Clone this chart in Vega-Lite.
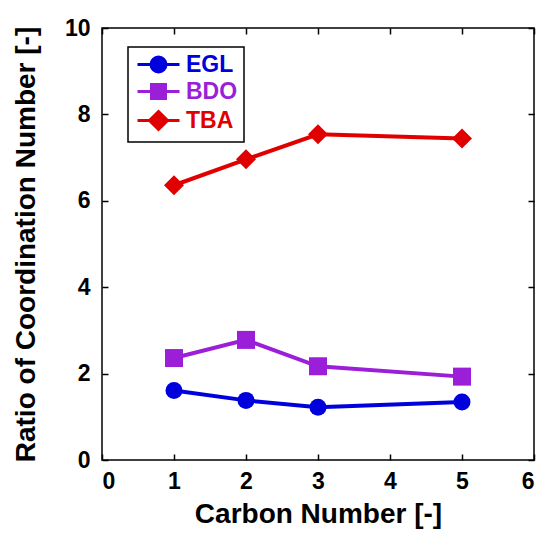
{
  "$schema": "https://vega.github.io/schema/vega-lite/v6.json",
  "width": 432,
  "height": 432,
  "autosize": "none",
  "padding": {"left": 102, "top": 28, "right": 11, "bottom": 73},
  "background": "white",
  "config": {
    "font": "Liberation Sans",
    "view": {"stroke": "black", "strokeWidth": 1.5},
    "axis": {
      "labelFont": "Liberation Sans", "labelFontWeight": "bold", "labelFontSize": 23, "labelColor": "black",
      "titleFont": "Liberation Sans", "titleFontWeight": "bold", "titleFontSize": 28, "titleColor": "black",
      "grid": false, "domain": false, "tickSize": 6, "offset": -6, "tickColor": "black", "tickWidth": 1.5
    }
  },
  "data": {"values": [
    {"series": "EGL", "carbon": 1, "ratio": 1.61},
    {"series": "EGL", "carbon": 2, "ratio": 1.38},
    {"series": "EGL", "carbon": 3, "ratio": 1.22},
    {"series": "EGL", "carbon": 5, "ratio": 1.34},
    {"series": "BDO", "carbon": 1, "ratio": 2.36},
    {"series": "BDO", "carbon": 2, "ratio": 2.78},
    {"series": "BDO", "carbon": 3, "ratio": 2.17},
    {"series": "BDO", "carbon": 5, "ratio": 1.93},
    {"series": "TBA", "carbon": 1, "ratio": 6.36},
    {"series": "TBA", "carbon": 2, "ratio": 6.96},
    {"series": "TBA", "carbon": 3, "ratio": 7.54},
    {"series": "TBA", "carbon": 5, "ratio": 7.44}
  ]},
  "layer": [
    {
      "mark": {"type": "line", "strokeWidth": 4},
      "encoding": {
        "x": {"field": "carbon", "type": "quantitative", "scale": {"domain": [0, 6], "nice": false},
              "axis": {"values": [0, 1, 2, 3, 4, 5, 6], "title": "Carbon Number [-]", "labelPadding": 10, "titlePadding": 7}},
        "y": {"field": "ratio", "type": "quantitative", "scale": {"domain": [0, 10], "nice": false},
              "axis": {"values": [0, 2, 4, 6, 8, 10], "title": "Ratio of Coordination Number [-]", "labelPadding": 12, "titlePadding": 24}},
        "color": {"field": "series", "type": "nominal",
          "scale": {"domain": ["EGL", "BDO", "TBA"], "range": ["#0000DD", "#9B1ED8", "#E00000"]},
          "legend": {
            "orient": "none", "legendX": 26, "legendY": 19, "title": null,
            "strokeColor": "black", "fillColor": "white", "padding": 6,
            "symbolSize": 400, "symbolStrokeWidth": 3,
            "labelFont": "Liberation Sans", "labelFontSize": 23, "labelFontWeight": "bold",
            "labelOffset": 29, "rowPadding": 0,
            "encode": {
              "legend": {"update": {"strokeWidth": {"value": 1.5}}},
              "labels": {"update": {"fill": {"signal": "datum.value === 'EGL' ? '#0000DD' : datum.value === 'BDO' ? '#9B1ED8' : '#E00000'"}}},
              "symbols": {"update": {
                "shape": {"signal": "datum.value === 'EGL' ? 'M-0.8,0H3.4M0.55,0A0.75,0.75 0 1,0 2.05,0A0.75,0.75 0 1,0 0.55,0Z' : datum.value === 'BDO' ? 'M-0.8,0H3.4M0.6,-0.7H2.0V0.7H0.6Z' : 'M-0.8,0H3.4M1.3,-0.9L2.2,0L1.3,0.9L0.4,0Z'"},
                "fill": {"signal": "datum.value === 'EGL' ? '#0000DD' : datum.value === 'BDO' ? '#9B1ED8' : '#E00000'"},
                "stroke": {"signal": "datum.value === 'EGL' ? '#0000DD' : datum.value === 'BDO' ? '#9B1ED8' : '#E00000'"},
                "strokeWidth": {"value": 3},
                "opacity": {"value": 1},
                "fillOpacity": {"value": 1}
              }}
            }
          }
        }
      }
    },
    {
      "transform": [{"filter": "datum.series === 'EGL'"}],
      "mark": {"type": "point", "filled": true, "opacity": 1, "shape": "circle", "size": 289, "color": "#0000DD"},
      "encoding": {
        "x": {"field": "carbon", "type": "quantitative", "axis": {"orient": "top", "values": [0, 1, 2, 3, 4, 5, 6], "labels": false, "title": null}},
        "y": {"field": "ratio", "type": "quantitative", "axis": {"orient": "right", "values": [0, 2, 4, 6, 8, 10], "labels": false, "title": null}}
      }
    },
    {
      "transform": [{"filter": "datum.series === 'BDO'"}],
      "mark": {"type": "point", "filled": true, "opacity": 1, "shape": "square", "size": 324, "color": "#9B1ED8"},
      "encoding": {
        "x": {"field": "carbon", "type": "quantitative", "axis": null},
        "y": {"field": "ratio", "type": "quantitative", "axis": null}
      }
    },
    {
      "transform": [{"filter": "datum.series === 'TBA'"}],
      "mark": {"type": "point", "filled": true, "opacity": 1, "shape": "diamond", "size": 400, "color": "#E00000"},
      "encoding": {
        "x": {"field": "carbon", "type": "quantitative", "axis": null},
        "y": {"field": "ratio", "type": "quantitative", "axis": null}
      }
    }
  ],
  "resolve": {"axis": {"x": "independent", "y": "independent"}}
}
